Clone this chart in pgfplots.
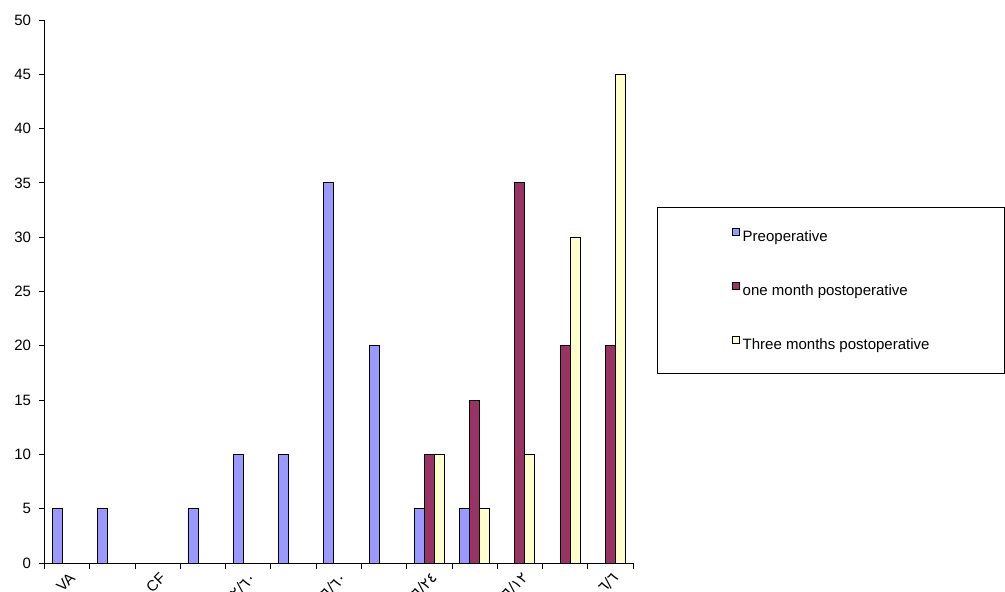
\documentclass[border=0pt]{standalone}
\usepackage{pgfplots}
\pgfplotsset{compat=1.18}
\usepackage{fontspec}
\setmainfont{Liberation Sans}
\newfontfamily\arabicfont[Script=Arabic]{DejaVu Sans}

\definecolor{preop}{HTML}{9999FF}
\definecolor{onem}{HTML}{993366}
\definecolor{threem}{HTML}{FFFFCC}

\begin{document}
\begin{tikzpicture}
\begin{axis}[
  width=588.5pt, height=543pt, scale only axis,
  xmin=-0.5, xmax=12.5, ymin=0, ymax=50,
  axis x line*=bottom, axis y line*=left,
  axis line style={black, line width=0.8pt},
  ytick={0,5,...,50},
  xtick={0,2,...,12},
  xticklabels={VA,CF,{\arabicfont ٢/٦٠},{\arabicfont ٦/٦٠},{\arabicfont ٦/٢٤},{\arabicfont ٦/١٢},{\arabicfont ٦/٦}},
  minor xtick={-0.5,0.5,...,12.5},
  major x tick style={draw=none},
  tick style={black, line width=0.8pt},
  tick align=outside,
  major tick length=5pt, minor tick length=6pt,
  /pgf/number format/assume math mode=true,
  tick label style={font=\fontsize{15}{18}\selectfont},
  yticklabel style={xshift=-5pt},
  xticklabel style={overlay, rotate=45, anchor=east, yshift=-9pt, xshift=2pt},
  ybar=0pt, bar width=10pt,
  every axis plot/.append style={draw=black, line width=0.8pt},
  legend image code/.code={\draw[#1,draw=black,line width=0.8pt] (0pt,1.5pt) rectangle (7pt,8.5pt);},
  legend cell align=left,
  legend style={overlay, at={(1.0400,0.6556)}, anchor=north west, draw=black, line width=0.8pt,
    font=\fontsize{15}{18}\selectfont, inner xsep=75pt, inner ysep=21pt,
    row sep=38pt, column sep=3pt,
    nodes={inner sep=0pt, text height=11pt, text depth=3pt}},
]
\addplot[fill=preop] coordinates {(0,5) (1,5) (3,5) (4,10) (5,10) (6,35) (7,20) (8,5) (9,5)};
\addplot[fill=onem] coordinates {(8,10) (9,15) (10,35) (11,20) (12,20)};
\addplot[fill=threem] coordinates {(8,10) (9,5) (10,10) (11,30) (12,45)};
\legend{Preoperative, one month postoperative, Three months postoperative}
\coordinate (O) at (rel axis cs:0,0);
\end{axis}
% page frame around the axis
\path (O) ++(-44.5pt,-29pt) rectangle ++(1005pt,592pt);
\end{tikzpicture}
\end{document}
